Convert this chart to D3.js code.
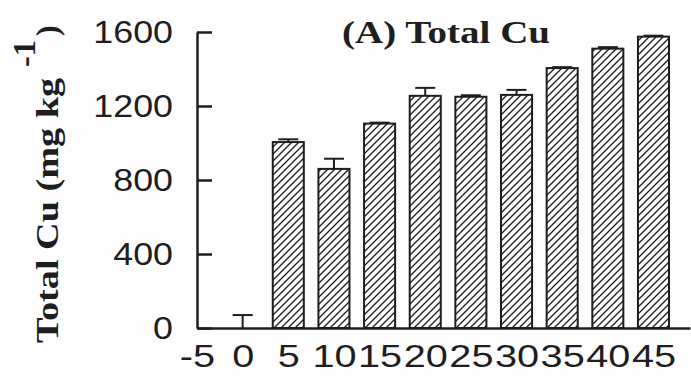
<!DOCTYPE html>
<html><head><meta charset="utf-8">
<script src="https://cdn.jsdelivr.net/npm/d3@7"></script>
<style>body{margin:0;background:#fdfdfd} svg{display:block}</style></head>
<body>
<svg id="c" width="691" height="387"></svg>
<script>
const doses = [0, 5, 10, 15, 20, 25, 30, 35, 40, 45];
const totalCu = [0, 1005, 860, 1105, 1255, 1250, 1260, 1405, 1510, 1575];
const errors = [70, 15, 55, 5, 43, 8, 27, 5, 8, 5];
const xTicks = [-5, 0, 5, 10, 15, 20, 25, 30, 35, 40, 45];
const yTicks = [0, 400, 800, 1200, 1600];
const title = "(A) Total Cu";
const yTitle = "Total Cu (mg kg";

const ink = "#1e1e1e";
const svg = d3.select("#c");
const x = d3.scaleLinear().domain([-5, 49]).range([197, 690]);
const y = d3.scaleLinear().domain([0, 1600]).range([328, 32]);
const halfW = 1.7;
const sans = "'Liberation Sans', Arial, sans-serif";
const serif = "'Liberation Serif', 'Times New Roman', serif";

const defs = svg.append("defs");
const pat = defs.append("pattern").attr("id", "hatch")
  .attr("patternUnits", "userSpaceOnUse").attr("width", 7).attr("height", 7);
pat.append("path").attr("d", "M0,7 L7,0 M-1,1 L1,-1 M6,8 L8,6")
  .attr("stroke", ink).attr("stroke-width", 1.3);

const data = doses.map((d, i) => ({d, v: totalCu[i], e: errors[i]}));

// bars
svg.append("g").selectAll("rect").data(data.filter(p => p.v > 0)).join("rect")
  .attr("x", p => x(p.d - halfW))
  .attr("width", p => x(p.d + halfW) - x(p.d - halfW))
  .attr("y", p => y(p.v))
  .attr("height", p => y(0) - y(p.v))
  .attr("fill", "url(#hatch)")
  .attr("stroke", ink).attr("stroke-width", 2);

// error bars
const eg = svg.append("g").attr("stroke", ink).attr("stroke-width", 2);
eg.selectAll("line.s").data(data).join("line").attr("class", "s")
  .attr("x1", p => x(p.d)).attr("x2", p => x(p.d))
  .attr("y1", p => y(p.v)).attr("y2", p => y(p.v + p.e));
eg.selectAll("line.c").data(data).join("line").attr("class", "c")
  .attr("x1", p => x(p.d) - 10).attr("x2", p => x(p.d) + 10)
  .attr("y1", p => y(p.v + p.e)).attr("y2", p => y(p.v + p.e));

// y axis
const ya = svg.append("g").attr("transform", `translate(${x(-5)},0)`)
  .call(d3.axisLeft(y).tickValues(yTicks).tickFormat(d => String(d))
    .tickSizeInner(-15).tickSizeOuter(0).tickPadding(24));
ya.selectAll("path,line").attr("stroke", ink).attr("stroke-width", 2.5);
ya.selectAll("text").attr("font-family", sans)
  .attr("font-size", 32).attr("fill", ink)
  .attr("transform", "scale(1.12,1)").attr("x", -24 / 1.12);

// x axis
const xa = svg.append("g").attr("transform", `translate(0,${y(0)})`)
  .call(d3.axisBottom(x).tickValues(xTicks).tickSize(0).tickPadding(17)
    .tickFormat(d => String(d)));
xa.select("path").attr("stroke", ink).attr("stroke-width", 2.5);
xa.selectAll("text").attr("font-family", sans)
  .attr("font-size", 31).attr("fill", ink)
  .attr("transform", "scale(1.28,1)");

// title
svg.append("text").attr("x", 342).attr("y", 43)
  .attr("font-family", serif)
  .attr("font-weight", "bold").attr("font-size", 31).attr("fill", ink)
  .attr("textLength", 208).attr("lengthAdjust", "spacingAndGlyphs")
  .text(title);

// y title
svg.append("text").attr("transform", "translate(58,343) rotate(-90)")
  .attr("font-family", serif).attr("font-weight", "bold").attr("font-size", 32).attr("fill", ink)
  .attr("textLength", 265).attr("lengthAdjust", "spacingAndGlyphs")
  .text(yTitle);
svg.append("text").attr("transform", "translate(35,67) rotate(-90)")
  .attr("font-family", serif).attr("font-weight", "bold").attr("font-size", 32).attr("fill", ink)
  .attr("textLength", 27).attr("lengthAdjust", "spacingAndGlyphs")
  .text("-1");
svg.append("text").attr("transform", "translate(58,36) rotate(-90)")
  .attr("font-family", serif).attr("font-weight", "bold").attr("font-size", 32).attr("fill", ink)
  .text(")");
</script>
</body></html>
